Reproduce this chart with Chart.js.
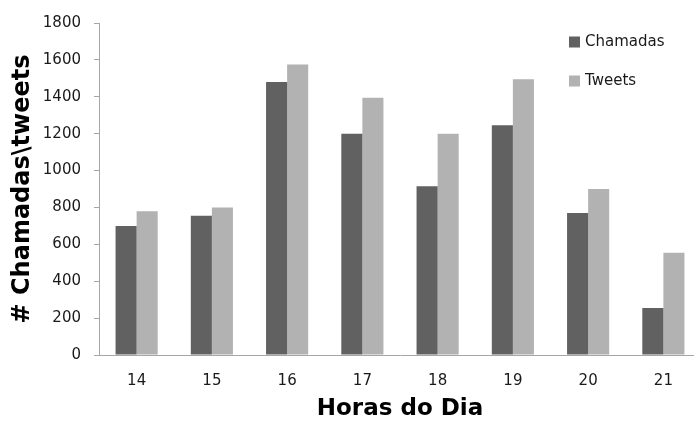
<!DOCTYPE html>
<html>
<head>
<meta charset="utf-8">
<title>Chamadas e Tweets por hora</title>
<script src="https://cdn.jsdelivr.net/npm/chart.js@4"></script>
<style>
    html, body { margin: 0; padding: 0; background: #fff; overflow: hidden; }
    #wrap { width: 702px; height: 423px; }
</style>
</head>
<body>
<div id="wrap">
    <canvas id="horas" width="702" height="423"></canvas>
</div>
<script>
// horas do dia
const horas = ['14', '15', '16', '17', '18', '19', '20', '21']
const chamadas = [700, 755, 1480, 1200, 915, 1245, 770, 255]
const tweets = [780, 800, 1575, 1395, 1200, 1495, 900, 555]
const yTicks = [0, 200, 400, 600, 800, 1000, 1200, 1400, 1600, 1800]

const fonte = 'DejaVu Sans'
const corEixo = '#a6a6a6'

// legenda desenhada dentro da area do grafico, canto superior direito
const sideLegend = {
    id: 'sideLegend',
    afterDraw(chart) {
        const ctx = chart.ctx
        ctx.save()
        ctx.font = '15px "' + fonte + '"'
        ctx.textBaseline = 'middle'
        ctx.textAlign = 'left'
        chart.data.datasets.forEach((ds, i) => {
            const cy = 42 + i * 39
            ctx.fillStyle = ds.backgroundColor
            ctx.fillRect(569, cy - 5.5, 11, 11)
            ctx.fillStyle = '#1a1a1a'
            ctx.fillText(ds.label, 585, cy)
        })
        ctx.restore()
    }
}

new Chart(document.getElementById('horas').getContext('2d'), {
    type: 'bar',
    data: {
        labels: horas,
        datasets: [
            {
                label: 'Chamadas',
                data: chamadas,
                backgroundColor: '#616161',
                barPercentage: 1,
                categoryPercentage: 0.56,
            },
            {
                label: 'Tweets',
                data: tweets,
                backgroundColor: '#b2b2b2',
                barPercentage: 1,
                categoryPercentage: 0.56,
            }
        ]
    },
    options: {
        responsive: false,
        devicePixelRatio: 1,
        animation: false,
        layout: {
            padding: { top: 23, right: 1, bottom: 0, left: 0 }
        },
        plugins: {
            legend: { display: false },
            tooltip: { enabled: false }
        },
        scales: {
            x: {
                afterFit: (s) => { s.height = 68 },
                grid: { drawOnChartArea: false, drawTicks: false },
                border: { color: corEixo, width: 1 },
                ticks: {
                    color: '#1a1a1a',
                    padding: 17,
                    font: { family: fonte, size: 15 }
                },
                title: {
                    display: true,
                    text: 'Horas do Dia',
                    color: '#000',
                    padding: { top: 0, bottom: 0 },
                    font: { family: fonte, size: 23, weight: 'bold' }
                }
            },
            y: {
                min: 0,
                max: 1800,
                afterFit: (s) => { s.width = 99 },
                afterBuildTicks: (s) => { s.ticks = yTicks.map(v => ({ value: v })) },
                grid: { drawOnChartArea: false, drawTicks: true, tickLength: 5, color: corEixo },
                border: { color: corEixo, width: 1 },
                ticks: {
                    color: '#1a1a1a',
                    padding: 13,
                    font: { family: fonte, size: 15 },
                    callback: (v) => String(v)
                },
                title: {
                    display: true,
                    text: '# Chamadas\\tweets',
                    color: '#000',
                    padding: { top: 8, bottom: 0 },
                    font: { family: fonte, size: 24, weight: 'bold' }
                }
            }
        }
    },
    plugins: [sideLegend]
})
</script>
</body>
</html>
